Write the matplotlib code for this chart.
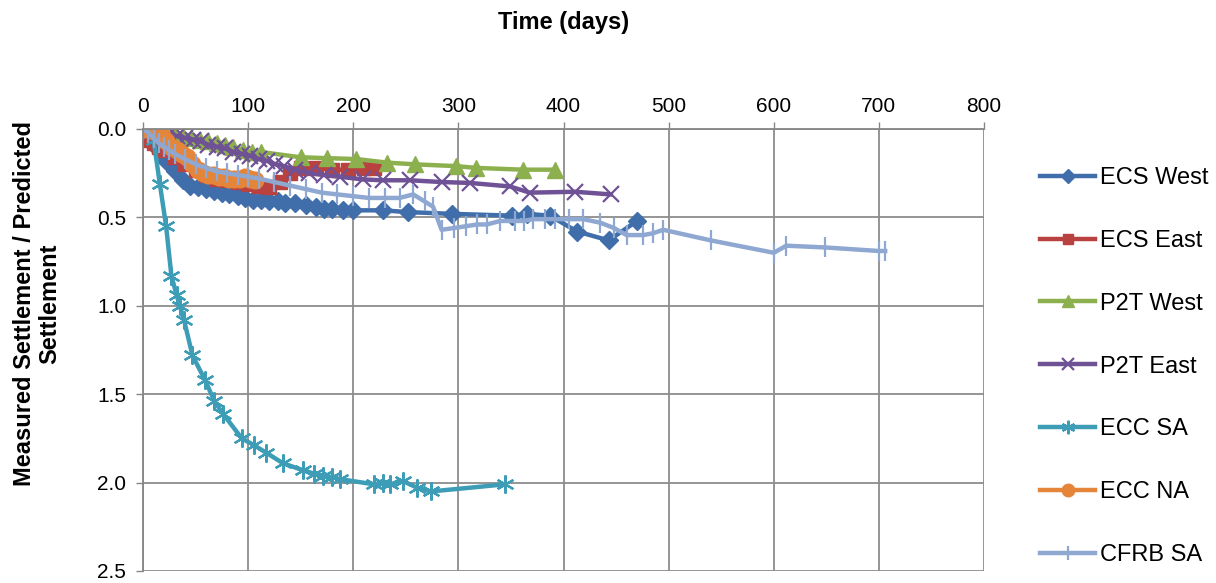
import numpy as np
import matplotlib as mpl, matplotlib.pyplot as plt

mpl.rcParams.update({"font.family": ["Liberation Sans", "DejaVu Sans"], "font.size": 16})

# ====== Data ======
ecs_west_d = [0, 8, 15, 22, 30, 38, 45, 52, 60, 68, 75, 82, 90, 97, 105, 112, 120, 128, 135, 145,
              155, 165, 172, 180, 190, 200, 228, 252, 294, 351, 365, 387, 413, 443, 470]
ecs_west_v = [0.02, 0.06, 0.12, 0.18, 0.24, 0.29, 0.32, 0.33, 0.34, 0.35, 0.36, 0.37, 0.38, 0.39, 0.40,
              0.40, 0.41, 0.41, 0.42, 0.42, 0.43, 0.44, 0.45, 0.45, 0.46, 0.46, 0.46, 0.47, 0.48, 0.49,
              0.48, 0.49, 0.58, 0.63, 0.52]

ecs_east_d = [0, 5, 10, 15, 20, 30, 40, 50, 60, 70, 80, 90, 100, 110, 120, 130, 140, 150, 165, 180,
              195, 210, 220]
ecs_east_v = [0.05, 0.06, 0.08, 0.10, 0.12, 0.16, 0.20, 0.23, 0.26, 0.28, 0.29, 0.30, 0.31, 0.32,
              0.33, 0.30, 0.25, 0.22, 0.22, 0.23, 0.23, 0.22, 0.22]

p2t_west_d = [10, 20, 30, 38, 46, 54, 62, 70, 78, 86, 95, 104, 112, 150, 175, 203, 232, 259, 298,
              317, 361, 392]
p2t_west_v = [0.0, 0.01, 0.03, 0.04, 0.05, 0.06, 0.07, 0.08, 0.09, 0.10, 0.12, 0.13, 0.13, 0.16,
              0.165, 0.17, 0.19, 0.20, 0.21, 0.22, 0.23, 0.23]

p2t_east_d = [25, 32, 40, 48, 55, 62, 70, 78, 86, 94, 102, 110, 118, 126, 134, 145, 158, 172, 187,
              209, 228, 254, 284, 311, 349, 368, 411, 445]
p2t_east_v = [0.03, 0.04, 0.05, 0.06, 0.07, 0.09, 0.10, 0.11, 0.13, 0.14, 0.15, 0.17, 0.18, 0.20,
              0.21, 0.23, 0.25, 0.26, 0.27, 0.285, 0.29, 0.29, 0.30, 0.305, 0.325, 0.36, 0.355, 0.37]

ecc_sa_d = [0, 5, 10, 16, 22, 27, 32, 35, 39, 47, 59, 68, 76, 94, 106, 117, 133, 152, 163, 171, 180,
            187, 220, 228, 235, 247, 261, 274, 344]
ecc_sa_v = [0.0, 0.01, 0.06, 0.31, 0.55, 0.83, 0.94, 1.0, 1.08, 1.28, 1.42, 1.54, 1.61, 1.75, 1.79,
            1.83, 1.89, 1.93, 1.95, 1.96, 1.97, 1.98, 2.01, 2.0, 2.01, 1.99, 2.03, 2.05, 2.01]

ecc_na_d = [0, 5, 10, 14, 18, 22, 27, 32, 37, 42, 47, 52, 57, 62, 67, 72, 77, 82, 87, 92, 97, 102, 107]
ecc_na_v = [0.0, 0.0, 0.01, 0.02, 0.04, 0.07, 0.10, 0.12, 0.14, 0.16, 0.20, 0.23, 0.25, 0.26, 0.26,
            0.27, 0.27, 0.28, 0.28, 0.28, 0.27, 0.28, 0.29]

cfrb_sa_d = [0, 5, 10, 15, 20, 25, 30, 40, 50, 60, 70, 80, 90, 100, 110, 125, 140, 155, 170, 185,
             200, 215, 230, 244, 257, 268, 276, 284, 296, 307, 318, 327, 340, 354, 362, 371, 382,
             392, 405, 419, 435, 448, 460, 476, 485, 495, 540, 600, 612, 649, 700, 706]
cfrb_sa_v = [0.0, 0.02, 0.05, 0.08, 0.10, 0.12, 0.14, 0.17, 0.20, 0.22, 0.24, 0.25, 0.26, 0.27,
             0.28, 0.30, 0.32, 0.34, 0.36, 0.37, 0.38, 0.39, 0.39, 0.39, 0.37, 0.41, 0.44, 0.57,
             0.56, 0.55, 0.54, 0.54, 0.52, 0.52, 0.52, 0.51, 0.51, 0.51, 0.51, 0.51, 0.53, 0.56,
             0.60, 0.60, 0.59, 0.57, 0.63, 0.70, 0.66, 0.67, 0.69, 0.69]

series = [
    ("ECS West", ecs_west_d, ecs_west_v, "#3F6EAA", dict(marker="D", ms=9.5)),
    ("ECS East", ecs_east_d, ecs_east_v, "#B9413F", dict(marker="s", ms=10)),
    ("P2T West", p2t_west_d, p2t_west_v, "#8DB04F", dict(marker="^", ms=12)),
    ("P2T East", p2t_east_d, p2t_east_v, "#6F5196", dict(marker="x", ms=12, mew=1.6)),
    ("ECC SA", ecc_sa_d, ecc_sa_v, "#3E9DB6", dict(marker=(6, 2, 0), ms=13, mew=1.6)),
    ("ECC NA", ecc_na_d, ecc_na_v, "#E5853A", dict(marker="o", ms=12)),
    ("CFRB SA", cfrb_sa_d, cfrb_sa_v, "#8EA8D1", dict(marker="|", ms=14, mew=1.6)),
]

fig = plt.figure(figsize=(12.16, 5.83), dpi=100)
# plot area: x 143..984 px, y 129..571 px
ax = fig.add_axes([143 / 1216, 1 - 571 / 583, 841 / 1216, 442 / 583])

for name, d, v, c, mk in series:
    ax.plot(d, v, color=c, lw=3.2, label=name, mfc=c, mec=c, **mk)

ax.set_xlim(0, 800); ax.set_ylim(2.5, 0)
ax.set_xticks(np.arange(0, 801, 100)); ax.set_yticks(np.arange(0, 2.51, 0.5))
ax.set_yticklabels([f"{t:.1f}" for t in np.arange(0, 2.51, 0.5)])
ax.xaxis.tick_top()
ax.tick_params(axis="both", colors="#868686", labelcolor="black", labelsize=15, length=5, width=1)
ax.tick_params(axis="x", pad=4)
ax.tick_params(axis="y", pad=7)
ax.grid(True, color="#8C8C8C", lw=1.3)
ax.set_axisbelow(True)
for s in ["bottom", "right"]:
    ax.spines[s].set_visible(False)
for s in ["top", "left"]:
    ax.spines[s].set_color("#868686"); ax.spines[s].set_linewidth(1.3)

fig.text(564 / 1216, 1 - 22 / 583, "Time (days)", ha="center", va="center", fontsize=17, fontweight="bold")
fig.text(37 / 1216, 1 - 304 / 583, "Measured Settlement / Predicted\nSettlement", ha="center", va="center",
         rotation=90, fontsize=17, fontweight="bold", linespacing=1.1)

fig.legend(loc="upper left", bbox_to_anchor=(1040 / 1216, 1 - 167 / 583), frameon=False,
           fontsize=17, labelspacing=1.73, handlelength=2.33, handletextpad=0.2,
           borderpad=0, borderaxespad=0, markerscale=0.75)

fig.savefig("out.png", dpi=100)
